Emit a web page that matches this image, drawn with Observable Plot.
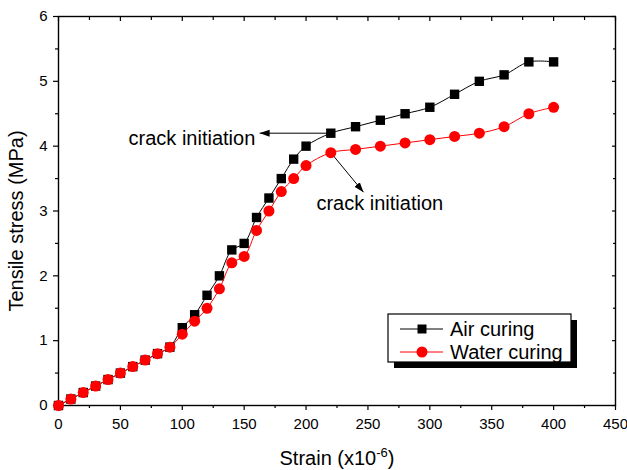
<!DOCTYPE html>
<html><head><meta charset="utf-8">
<script src="https://cdn.jsdelivr.net/npm/d3@7"></script>
<script src="https://cdn.jsdelivr.net/npm/@observablehq/plot@0.6"></script>
<style>
body{margin:0;background:#fff;}
#chart{position:relative;width:627px;height:470px;}
svg{font-family:"Liberation Sans",Arial,sans-serif;}
</style></head><body><div id="chart"></div>
<script>
const strain = [0,10,20,30,40,50,60,70,80,90,100,110,120,130,140,150,160,170,180,190,200,220,240,260,280,300,320,340,360,380,400];
const airStress = [0,0.1,0.2,0.3,0.4,0.5,0.6,0.7,0.8,0.9,1.2,1.4,1.7,2.0,2.4,2.5,2.9,3.2,3.5,3.8,4.0,4.2,4.3,4.4,4.5,4.6,4.8,5.0,5.1,5.3,5.3];
const waterStress = [0,0.1,0.2,0.3,0.4,0.5,0.6,0.7,0.8,0.9,1.1,1.3,1.5,1.8,2.2,2.3,2.7,3.0,3.3,3.5,3.7,3.9,3.95,4.0,4.05,4.1,4.15,4.2,4.3,4.5,4.6];
const seriesNames = ["Air curing","Water curing"];
const seriesColors = ["#000000","#ff0000"];
const xTicks = [0,50,100,150,200,250,300,350,400,450];
const xMinor = [25,75,125,175,225,275,325,375,425];
const yTicks = [0,1,2,3,4,5,6];
const yMinor = [0.5,1.5,2.5,3.5,4.5,5.5];
const annotationText = ["crack initiation","crack initiation"];
const annotationX = [159,208.4];
const annotationY = [4.12,3.12];
const arrowX1 = [220,220], arrowY1 = [4.2,3.9];
const arrowX2 = [162.5,246.4], arrowY2 = [4.2,3.29];

const data = strain.map((s,i)=>({s, air: airStress[i], water: waterStress[i]}));
const annotations = annotationText.map((t,i)=>({t, x: annotationX[i], y: annotationY[i]}));
const arrows = arrowX1.map((x1,i)=>({x1, y1: arrowY1[i], x2: arrowX2[i], y2: arrowY2[i]}));
const blank = () => "";

const chart = Plot.plot({
  width: 627, height: 470,
  marginLeft: 58, marginRight: 12, marginTop: 16, marginBottom: 65,
  style: {fontFamily: '"Liberation Sans", Arial, sans-serif', fontSize: "15px", color: "#000", background: "#fff"},
  x: {domain: [0,450]},
  y: {domain: [0,6]},
  marks: [
    Plot.axisX({ticks: xTicks, tickSize: 5, tickPadding: 8, tickFormat: d3.format("d"), label: null, fontSize: 15, strokeWidth: 1.2}),
    Plot.axisX({ticks: xMinor, tickSize: 3, tickFormat: blank, label: null, strokeWidth: 1.2}),
    Plot.axisX({anchor: "top", ticks: xTicks, tickSize: -4, tickFormat: blank, label: null, strokeWidth: 1.2}),
    Plot.axisX({anchor: "top", ticks: xMinor, tickSize: -3, tickFormat: blank, label: null, strokeWidth: 1.2}),
    Plot.axisY({ticks: yTicks, tickSize: 5, tickPadding: 6, tickFormat: d3.format("d"), label: null, fontSize: 15, strokeWidth: 1.2}),
    Plot.axisY({ticks: yMinor, tickSize: 3, tickFormat: blank, label: null, strokeWidth: 1.2}),
    Plot.axisY({anchor: "right", ticks: yTicks, tickSize: -4, tickFormat: blank, label: null, strokeWidth: 1.2}),
    Plot.axisY({anchor: "right", ticks: yMinor, tickSize: -3, tickFormat: blank, label: null, strokeWidth: 1.2}),
    Plot.frame({stroke: "#000", strokeWidth: 1.4}),
    Plot.link(arrows, {x1: "x1", y1: "y1", x2: "x2", y2: "y2", stroke: "#000", strokeWidth: 1, className: "ann-arrow"}),
    Plot.line(data, {x: "s", y: "air", stroke: seriesColors[0], strokeWidth: 1, curve: "catmull-rom"}),
    Plot.dot(data, {x: "s", y: "air", symbol: "square", r: 5.3, fill: seriesColors[0]}),
    Plot.line(data, {x: "s", y: "water", stroke: seriesColors[1], strokeWidth: 1, curve: "catmull-rom"}),
    Plot.dot(data, {x: "s", y: "water", r: 5.5, fill: seriesColors[1]}),
    Plot.text(annotations.slice(0,1), {x: "x", y: "y", text: "t", textAnchor: "end", fontSize: 20, fill: "#000"}),
    Plot.text(annotations.slice(1), {x: "x", y: "y", text: "t", textAnchor: "start", fontSize: 20, fill: "#000"})
  ]
});
document.getElementById("chart").appendChild(chart);

const svg = d3.select(chart);
// arrow heads
const defs = svg.append("defs");
defs.append("marker").attr("id","ah").attr("markerUnits","userSpaceOnUse")
  .attr("viewBox","0 -5 10 10").attr("refX",10).attr("refY",0)
  .attr("markerWidth",10).attr("markerHeight",10).attr("orient","auto")
  .append("path").attr("d","M0,-3.5L10,0L0,3.5Z").attr("fill","#000");
svg.selectAll(".ann-arrow path").attr("marker-end","url(#ah)");

// axis titles
const xl = svg.append("text").attr("x",337).attr("y",465).attr("text-anchor","middle")
  .attr("font-size",20).attr("fill","#000");
xl.append("tspan").text("Strain (x10");
xl.append("tspan").attr("dy",-8).attr("font-size",13).text("-6");
xl.append("tspan").attr("dy",8).text(")");
svg.append("text").attr("transform","translate(23,221) rotate(-90)").attr("text-anchor","middle")
  .attr("font-size",20).attr("fill","#000").text("Tensile stress (MPa)");

// legend
const lg = svg.append("g");
lg.append("rect").attr("x",394).attr("y",320).attr("width",183).attr("height",48).attr("fill","#000");
lg.append("rect").attr("x",388).attr("y",314).attr("width",183).attr("height",48).attr("fill","#fff").attr("stroke","#000").attr("stroke-width",1.2);
seriesNames.forEach((name,i)=>{
  const cy = 329 + i*23;
  lg.append("line").attr("x1",400).attr("x2",443).attr("y1",cy).attr("y2",cy).attr("stroke",seriesColors[i]).attr("stroke-width",1);
  if (i===0) lg.append("rect").attr("x",417.5).attr("y",cy-4.5).attr("width",9).attr("height",9).attr("fill",seriesColors[i]);
  else lg.append("circle").attr("cx",422).attr("cy",cy).attr("r",5.5).attr("fill",seriesColors[i]);
  lg.append("text").attr("x",450).attr("y",cy).attr("dy","0.35em").attr("text-anchor","start").attr("font-size",20).attr("fill","#000").text(name);
});
</script></body></html>
